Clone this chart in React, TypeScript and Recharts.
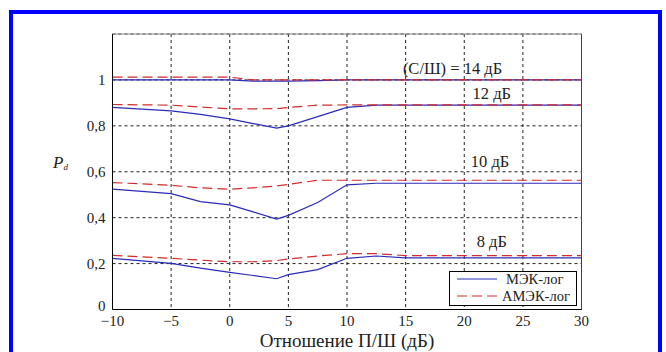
import {
  CartesianGrid,
  Legend,
  Line,
  LineChart,
  ReferenceDot,
  ReferenceLine,
  XAxis,
  YAxis,
} from 'recharts';

// Отношение П/Ш, дБ
const psnr = [-10, -5, -2.5, 0, 2, 4, 5, 7.5, 10, 12.5, 15, 20, 25, 30];

// МЭК-лог, P_d for each С/Ш
const mek14 = [1.0, 1.0, 1.0, 1.0, 0.995, 0.995, 0.995, 0.997, 1.0, 1.0, 1.0, 1.0, 1.0, 1.0];
const mek12 = [0.88, 0.865, 0.85, 0.83, 0.81, 0.79, 0.8, 0.84, 0.88, 0.89, 0.89, 0.89, 0.89, 0.89];
const mek10 = [0.524, 0.505, 0.47, 0.456, 0.425, 0.394, 0.41, 0.466, 0.543, 0.55, 0.55, 0.55, 0.55, 0.55];
const mek8 = [0.223, 0.201, 0.18, 0.162, 0.148, 0.134, 0.152, 0.174, 0.223, 0.233, 0.225, 0.225, 0.225, 0.225];

// АМЭК-лог
const amek14 = [1.012, 1.012, 1.012, 1.012, 1.0, 1.0, 1.0, 1.0, 1.0, 1.0, 1.0, 1.0, 1.0, 1.0];
const amek12 = [0.893, 0.89, 0.882, 0.874, 0.874, 0.875, 0.88, 0.89, 0.891, 0.891, 0.891, 0.891, 0.891, 0.891];
const amek10 = [0.553, 0.541, 0.53, 0.524, 0.53, 0.538, 0.545, 0.563, 0.563, 0.563, 0.563, 0.563, 0.563, 0.563];
const amek8 = [0.236, 0.223, 0.215, 0.208, 0.208, 0.213, 0.22, 0.233, 0.243, 0.243, 0.235, 0.235, 0.235, 0.235];

const xTicks = [-10, -5, 0, 5, 10, 15, 20, 25, 30];
const yTicks = [0, 0.2, 0.4, 0.6, 0.8, 1];

// curve captions: [x, y, text]
const captions: Array<[number, number, string]> = [
  [19.0, 1.053, '(С/Ш) = 14 дБ'],
  [22.35, 0.944, '12 дБ'],
  [22.2, 0.647, '10 дБ'],
  [22.35, 0.299, '8 дБ'],
];

const seriesKeys = ['14', '12', '10', '8'];

const data = psnr.map((x, i) => ({
  x,
  mek14: mek14[i],
  mek12: mek12[i],
  mek10: mek10[i],
  mek8: mek8[i],
  amek14: amek14[i],
  amek12: amek12[i],
  amek10: amek10[i],
  amek8: amek8[i],
}));

const FONT = '"Liberation Serif", "Times New Roman", serif';
const BLUE = '#2b2bb8';
const RED = '#d42a2a';
const DASH = '10 5';
const TEXT = '#222';

const fmtY = (v: number) => (v === 0 || v === 1 ? String(v) : v.toFixed(1).replace('.', ','));
const fmtX = (v: number) => (v < 0 ? '\u2212' + Math.abs(v) : String(v));

type TickProps = { x: number; y: number; payload: { value: number } };

// y tick: the zero label sits a bit above the corner so it clears the x labels
const YTick = ({ x, y, payload }: TickProps) => (
  <text
    x={x}
    y={payload.value === 0 ? y - 4 : y}
    dy="0.35em"
    textAnchor="end"
    fill={TEXT}
    fontSize={15}>
    {fmtY(payload.value)}
  </text>
);

const XTick = ({ x, y, payload }: TickProps) => (
  <text x={x} y={y} dy="0.75em" textAnchor="middle" fill={TEXT} fontSize={15}>
    {fmtX(payload.value)}
  </text>
);

const LegendBox = () => (
  <div
    style={{
      width: 128,
      height: 35,
      border: '1px solid #000',
      background: '#fff',
      boxSizing: 'border-box',
    }}>
    <svg width={126} height={33} style={{ display: 'block' }}>
      <line x1={7} x2={47} y1={7} y2={7} stroke={BLUE} strokeWidth={1.2} />
      <text x={56} y={11.5} fontSize={14.5} fill={TEXT}>
        МЭК-лог
      </text>
      <line x1={7} x2={47} y1={24} y2={24} stroke={RED} strokeWidth={1.2} strokeDasharray={DASH} />
      <text x={52} y={28.5} fontSize={14.5} fill={TEXT}>
        АМЭК-лог
      </text>
    </svg>
  </div>
);

export default function App() {
  return (
    <div
      style={{
        position: 'absolute',
        left: 0,
        top: 0,
        width: 666,
        height: 352,
        overflow: 'hidden',
        background: '#fff',
        fontFamily: FONT,
      }}>
      <div
        style={{
          position: 'absolute',
          left: 9,
          top: 10,
          width: 653,
          height: 360,
          border: '4px solid #0000ff',
          boxSizing: 'border-box',
        }}
      />
      <div style={{ position: 'absolute', left: 0, top: 0 }}>
        <LineChart
          width={666}
          height={352}
          data={data}
          style={{ fontFamily: FONT }}
          margin={{ top: 34, right: 84.5, bottom: 2.5, left: 52.5 }}>
          <CartesianGrid stroke="#222" strokeDasharray="3 3" strokeWidth={1} />
          <ReferenceLine y={1.2} stroke="#8a8a8a" strokeWidth={1} />
          <ReferenceLine x={30} stroke="#444" strokeWidth={1} />
          <XAxis
            dataKey="x"
            type="number"
            domain={[-10, 30]}
            ticks={xTicks}
            tickLine={false}
            tickSize={0}
            tickMargin={5}
            height={40}
            axisLine={{ stroke: '#000' }}
            tick={(p: TickProps) => <XTick {...p} />}
            label={{
              value: 'Отношение П/Ш (дБ)',
              position: 'insideBottom',
              offset: 3,
              fill: TEXT,
              fontSize: 19,
            }}
          />
          <YAxis
            type="number"
            domain={[0, 1.2]}
            ticks={yTicks}
            tickLine={false}
            tickSize={0}
            tickMargin={7}
            width={60}
            axisLine={{ stroke: '#000' }}
            tick={(p: TickProps) => <YTick {...p} />}
            label={{
              content: () => (
                <text x={53} y={168} fontStyle="italic" fill={TEXT}>
                  <tspan fontSize={17}>P</tspan>
                  <tspan fontSize={9} dy={2}>
                    d
                  </tspan>
                </text>
              ),
            }}
          />
          {seriesKeys.map((k) => (
            <Line
              key={'mek' + k}
              dataKey={'mek' + k}
              type="linear"
              stroke={BLUE}
              strokeWidth={1.2}
              dot={false}
              activeDot={false}
              isAnimationActive={false}
            />
          ))}
          {seriesKeys.map((k) => (
            <Line
              key={'amek' + k}
              dataKey={'amek' + k}
              type="linear"
              stroke={RED}
              strokeWidth={1.2}
              strokeDasharray={DASH}
              dot={false}
              activeDot={false}
              isAnimationActive={false}
            />
          ))}
          {captions.map(([cx, cy, text]) => (
            <ReferenceDot
              key={text}
              x={cx}
              y={cy}
              r={1}
              fill="none"
              stroke="none"
              label={{ value: text, position: 'center', fill: TEXT, fontSize: 16.5 }}
            />
          ))}
          <Legend
            layout="vertical"
            align="center"
            verticalAlign="middle"
            content={() => <LegendBox />}
            wrapperStyle={{ left: 449, top: 271, width: 128, height: 35 }}
          />
        </LineChart>
      </div>
    </div>
  );
}
